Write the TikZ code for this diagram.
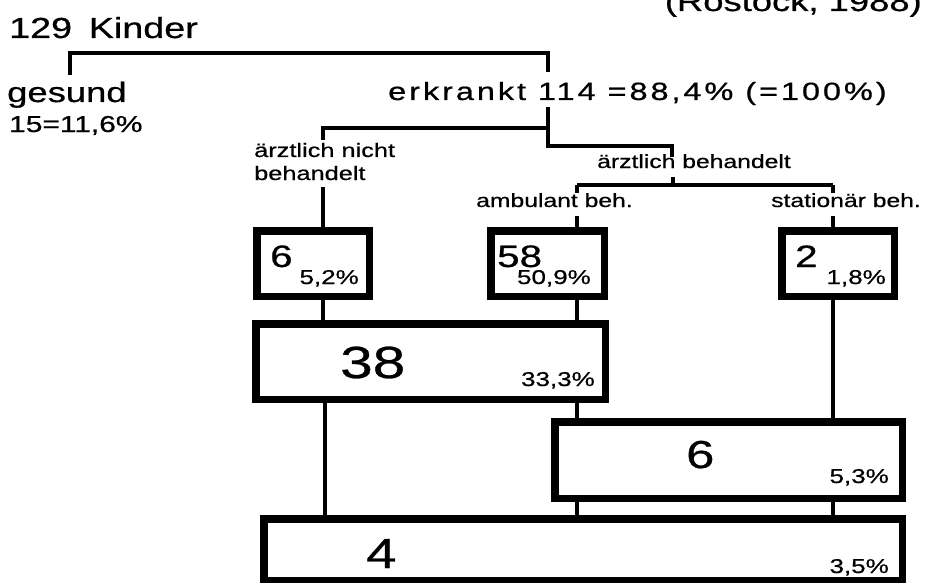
\documentclass[tikz,border=0pt]{standalone}
\usepackage{fontspec}
\setmainfont{Liberation Sans}
\usepackage{tikz}

\newcommand{\wide}[2]{\scalebox{1.3}[1]{\fontsize{#1}{#1}\selectfont\addfontfeature{FakeBold=0.6}#2}}

\begin{document}
\begin{tikzpicture}[x=1pt,y=-1pt,
    txt/.style={anchor=base west,inner sep=0pt},
    rtxt/.style={anchor=base east,inner sep=0pt},
    box/.style={draw,line width=7.5pt,inner sep=0pt},
    bracket/.style={line width=4.5pt},
    conn/.style={line width=3.5pt}]
            \clip (0,0) rectangle (929,583);
            \useasboundingbox (0,0) rectangle (929,583);

            % Kopf
            \node[rtxt] (ort) at (922,11) {\wide{28}{(Rostock, 1988)}};
            \node[txt] (kinder) at (9,38) {\wide{29}{129\, Kinder}};
            \node[txt] (gesund) at (7,102) {\wide{28}{gesund}};
            \node[txt] (gesundn) at (9,132) {\wide{23}{15=11,6\%}};
            \node[txt] (erkrankt) at (388,100) {\wide{25}{\addfontfeature{LetterSpace=9}erkrankt 114 =88,4\% (=100\%)}};

            % Zweige
            \node[txt] (nicht) at (254,157) {\wide{19.5}{ärztlich nicht}};
            \node[txt] (nicht2) at (254,180) {\wide{19.5}{behandelt}};
            \node[txt] (behandelt) at (597,168) {\wide{19}{ärztlich behandelt}};
            \node[txt] (ambulant) at (476,207) {\wide{19}{ambulant beh.}};
            \node[txt] (stationaer) at (771,207) {\wide{19}{stationär beh.}};

            \coordinate (k1) at (70,53);
            \coordinate (k2) at (548,53);
            \coordinate (e1) at (548,128);
            \coordinate (e2) at (323,128);
            \coordinate (e3) at (548,146);
            \coordinate (e4) at (672,146);
            \coordinate (a0) at (673,185);
            \coordinate (a1) at (577,185);
            \coordinate (a2) at (833,185);

            \draw[bracket] (70,75) -- (k1) -- (k2) -- (548,72);
            \draw[bracket] (548,107) -- (e1) -- (e2) -- (323,140);
            \draw[bracket] (e1) -- (e3) -- (e4) -- (672,157);
            \draw[bracket] (673,177) -- (a0) (a1) -- (a2);
            \draw[bracket] (a1) -- (577,193) (a2) -- (833,193);

            % Kaesten
            \node[box,minimum width=112.5pt,minimum height=65.5pt] (b6) at (313,263.5) {};
            \node[box,minimum width=113.5pt,minimum height=65.5pt] (b58) at (547.5,263.5) {};
            \node[box,minimum width=112.5pt,minimum height=65.5pt] (b2) at (838,263.5) {};
            \node[box,minimum width=349.5pt,minimum height=75.5pt] (b38) at (430.5,361.5) {};
            \node[box,minimum width=347.5pt,minimum height=76.5pt] (b53) at (728.5,460) {};
            \node[box,minimum width=638.5pt,minimum height=61.5pt] (b4) at (583,549.5) {};

            \node[txt] (n6) at (270,267) {\wide{31}{6}};
            \node[rtxt] (p6) at (359,284) {\wide{20}{5,2\%}};
            \node[txt] (n58) at (497,267) {\wide{31}{58}};
            \node[rtxt] (p58) at (591,284) {\wide{20}{50,9\%}};
            \node[txt] (n2) at (795,267) {\wide{31}{2}};
            \node[rtxt] (p2) at (886,284) {\wide{20}{1,8\%}};
            \node[txt] (n38) at (340,378) {\wide{45}{38}};
            \node[rtxt] (p38) at (595,386) {\wide{20}{33,3\%}};
            \node[txt] (n53) at (686,468) {\wide{39}{6}};
            \node[rtxt] (p53) at (889,483) {\wide{20}{5,3\%}};
            \node[txt] (n4) at (366,568) {\wide{42}{4}};
            \node[rtxt] (p4) at (889,573) {\wide{20}{3,5\%}};

            % Verbindungen
            \draw[bracket] (323,187) -- (e2 |- b6.north);
            \draw[conn] (a1 |- 0,216) -- (a1 |- b58.north);
            \draw[conn] (a2 |- 0,216) -- (a2 |- b2.north);
            \draw[conn] (e2 |- b6.south) -- (e2 |- b38.north);
            \draw[conn] (a1 |- b58.south) -- (a1 |- b38.north);
            \draw[conn] (a2 |- b2.south) -- (a2 |- b53.north);
            \draw[conn] (a1 |- b38.south) -- (a1 |- b53.north);
            \draw[conn] (325,0 |- b38.south) -- (325,0 |- b4.north);
            \draw[conn] (a1 |- b53.south) -- (a1 |- b4.north);
            \draw[conn] (a2 |- b53.south) -- (a2 |- b4.north);

        \end{tikzpicture}
\end{document}
